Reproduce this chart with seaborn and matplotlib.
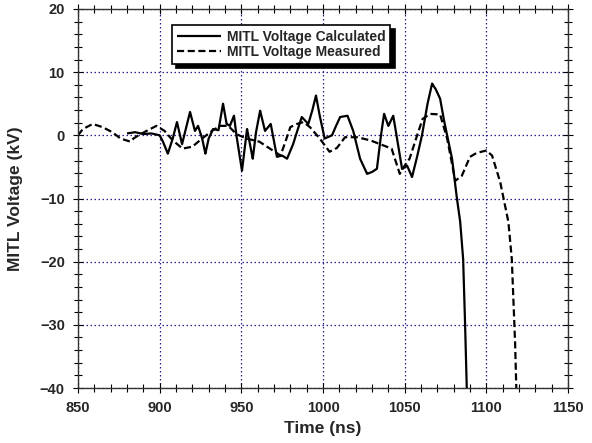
import numpy as np
import pandas as pd
import matplotlib
matplotlib.use("Agg")
import matplotlib.pyplot as plt
from matplotlib.ticker import MultipleLocator
import seaborn as sns

# calculated MITL voltage
t_calc = [880, 885, 890, 895, 900, 902, 905, 908, 910.6, 913.7, 916, 918.6, 921.6, 923.5,
          926, 928, 930, 932.7, 936, 938.8, 941, 943, 945.5, 947, 950.4, 953.5, 957,
          959, 961.5, 964.5, 968, 971.8, 975, 978, 981.7, 984, 987, 991, 993.5, 995.7,
          998, 1001, 1005.5, 1008, 1010.5, 1015, 1018.5, 1022.7, 1027, 1030, 1033,
          1035.5, 1037.4, 1040, 1043, 1045, 1048.4, 1051.5, 1054.5, 1057.5, 1060.6,
          1064, 1066.8, 1069, 1071.7, 1074, 1076, 1079, 1082, 1084, 1085.8, 1087, 1088, 1088.5]
v_calc = [0.3, 0.5, 0.2, 0.3, 0.0, -1.0, -2.9, -0.5, 2.1, -1.4, 1.0, 3.7, 0.7, 1.5,
          -0.5, -2.9, -0.5, 1.0, 0.8, 5.0, 1.8, 1.5, 3.1, 0.0, -5.6, 1.0, -3.7,
          0.5, 3.9, 0.7, 1.8, -3.4, -3.2, -3.7, -1.4, 0.5, 2.9, 1.8, 4.0, 6.3,
          3.1, -0.5, 0.0, 1.5, 2.9, 3.1, 0.7, -3.7, -6.1, -5.8, -5.3,
          0.0, 3.4, 1.5, 3.1, 0.0, -5.3, -4.8, -6.6, -3.5, 0.0,
          5.0, 8.2, 7.3, 5.8, 2.5, 0.0, -3.7, -10.0, -13.7, -19.6, -30.0, -39.8, -42.0]

# measured MITL voltage
t_meas = [850, 853, 859, 865, 871, 876, 882, 884, 887, 892, 898, 903, 908, 914, 920,
          926, 932, 937, 942, 947, 953, 961, 967.5, 974, 977, 980, 984, 988, 992, 998,
          1004, 1008.5, 1013.5, 1021, 1029, 1035, 1042, 1047, 1050, 1053, 1057, 1061,
          1065.5, 1071.7, 1076, 1081, 1085, 1090, 1094, 1100, 1103.5, 1108.5, 1113.5,
          1115.6, 1117.6, 1118.3, 1118.6]
v_meas = [0.0, 1.0, 1.8, 1.3, 0.5, -0.5, -1.0, -0.5, 0.0, 0.7, 1.5, 0.7, -0.8, -2.1, -1.8,
          -0.5, 0.7, 1.5, 1.5, 0.2, -0.5, -1.0, -2.1, -3.2, -1.0, 1.3, 1.8, 2.1, 1.3, -0.5,
          -2.6, -2.0, -0.3, -0.3, -0.8, -1.4, -2.1, -6.1, -4.8, -3.7, -0.5, 2.6,
          3.4, 3.3, -0.5, -7.2, -6.4, -3.4, -2.8, -2.4, -3.2, -7.4, -13.7,
          -19.6, -32.8, -39.5, -42.0]

df = pd.concat([
    pd.DataFrame({"t": t_calc, "v": v_calc, "s": "MITL Voltage Calculated"}),
    pd.DataFrame({"t": t_meas, "v": v_meas, "s": "MITL Voltage Measured"}),
])

sns.set_style("white")
plt.rcParams["font.family"] = ["Liberation Sans", "DejaVu Sans"]
plt.rcParams["font.weight"] = "bold"
plt.rcParams["lines.solid_joinstyle"] = "round"
plt.rcParams["lines.dash_joinstyle"] = "round"

fig = plt.figure(figsize=(5.92, 4.43), dpi=100)
ax = fig.add_axes([78 / 592, 1 - 388 / 443, 490 / 592, 379 / 443])

sns.lineplot(data=df, x="t", y="v", hue="s", style="s",
             palette=["black", "black"], dashes=[(1, 0), (3.2, 1.6)],
             linewidth=1.6, sort=False, estimator=None, ax=ax)

ax.set_xlim(850, 1150)
ax.set_ylim(-40, 20)
ax.xaxis.set_major_locator(MultipleLocator(50))
ax.xaxis.set_minor_locator(MultipleLocator(10))
ax.yaxis.set_major_locator(MultipleLocator(10))
ax.yaxis.set_minor_locator(MultipleLocator(2))
ax.tick_params(which="both", direction="inout", top=True, right=True,
               left=True, bottom=True, color="black", width=0.8)
ax.tick_params(which="major", length=7, labelsize=10.5, pad=6)
ax.tick_params(which="minor", length=6)
for lab in ax.get_xticklabels() + ax.get_yticklabels():
    lab.set_fontweight("bold")
ax.grid(True, which="major", color="#22228a", linestyle=(0, (1.2, 2)), linewidth=0.9)
for sp in ax.spines.values():
    sp.set_color("#333333")
    sp.set_linewidth(1.0)

ax.set_xlabel("Time (ns)", fontsize=12.5, fontweight="bold")
ax.set_ylabel("MITL Voltage (kV)", fontsize=12.5, fontweight="bold", labelpad=12)

leg = ax.legend(loc="upper left", bbox_to_anchor=(172 / 592, 1 - 25 / 443),
                bbox_transform=fig.transFigure, borderaxespad=0, fancybox=False,
                framealpha=1, edgecolor="black", handlelength=3.2, handletextpad=0.4,
                labelspacing=0.1, borderpad=0.35, fontsize=10,
                shadow={"color": "black", "alpha": 1, "ox": 3, "oy": -3})
leg.get_frame().set_linewidth(1.2)
for txt in leg.get_texts():
    txt.set_fontweight("bold")

fig.savefig("out.png", dpi=100)
